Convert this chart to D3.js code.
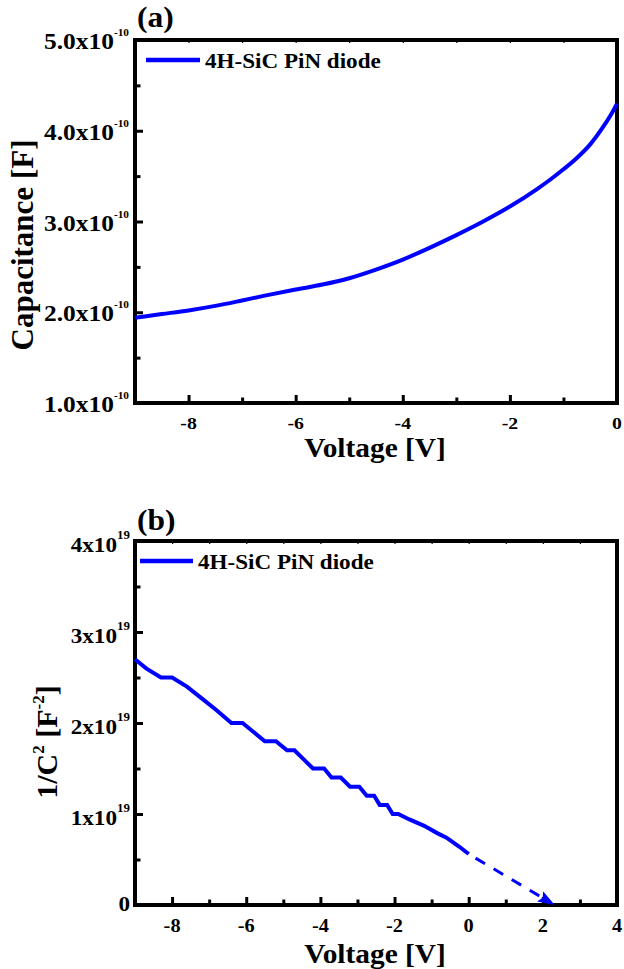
<!DOCTYPE html>
<html>
<head>
<meta charset="utf-8">
<script src="https://cdn.jsdelivr.net/npm/d3@7"></script>
<style>
  html, body { margin: 0; padding: 0; background: #fff; }
  svg { display: block; }
  text { font-family: "Liberation Serif", "Times New Roman", serif; font-weight: bold; fill: #000; }
</style>
</head>
<body>
<svg id="chart" width="624" height="969"></svg>
<script>
// ---------------- DATA ----------------
// Panel (a): capacitance vs voltage
const capVoltage = [-9, -8.5, -8, -7.5, -7, -6.6, -6, -5.5, -5, -4.5, -4, -3.5, -3, -2.5, -2, -1.5, -1.25, -1, -0.75, -0.5, -0.25, -0.1, 0];
const capValue   = [1.94e-10, 1.98e-10, 2.02e-10, 2.07e-10, 2.13e-10, 2.18e-10, 2.25e-10, 2.305e-10, 2.375e-10, 2.47e-10, 2.58e-10, 2.71e-10, 2.85e-10, 3.00e-10, 3.165e-10, 3.355e-10, 3.46e-10, 3.575e-10, 3.70e-10, 3.85e-10, 4.05e-10, 4.19e-10, 4.30e-10];

// Panel (b): 1/C^2 vs voltage
const invVoltage = [-9, -8.7, -8.3, -8.0, -7.6, -7.2, -6.8, -6.4, -6.1, -5.5, -5.2, -4.9, -4.7, -4.45, -4.2, -3.9, -3.7, -3.45, -3.2, -2.95, -2.75, -2.55, -2.4, -2.2, -2.05, -1.9, -1.6, -1.2, -0.85, -0.6, -0.25, 0];
const invValue   = [2.7e19, 2.6e19, 2.5e19, 2.5e19, 2.4e19, 2.27e19, 2.14e19, 2.0e19, 2.0e19, 1.8e19, 1.8e19, 1.7e19, 1.7e19, 1.6e19, 1.5e19, 1.5e19, 1.4e19, 1.4e19, 1.3e19, 1.3e19, 1.2e19, 1.2e19, 1.1e19, 1.1e19, 1.0e19, 1.0e19, 0.94e19, 0.87e19, 0.79e19, 0.74e19, 0.64e19, 0.56e19];

// Extrapolation (dashed arrow)
const extrapVoltage = [0, 2.32];
const extrapValue   = [0.56e19, 0];

// Axis ticks & labels
const aXMajor = [-8, -6, -4, -2, 0];
const aXMinor = [-7, -5, -3, -1];
const aXLabels = ["-8", "-6", "-4", "-2", "0"];
const aYMajor = [1e-10, 2e-10, 3e-10, 4e-10, 5e-10];
const aYMinor = [1.5e-10, 2.5e-10, 3.5e-10, 4.5e-10];
const aYLabels = ["1.0x10", "2.0x10", "3.0x10", "4.0x10", "5.0x10"];
const aYExp = "-10";

const bXMajor = [-8, -6, -4, -2, 0, 2, 4];
const bXMinor = [-7, -5, -3, -1, 1, 3];
const bXLabels = ["-8", "-6", "-4", "-2", "0", "2", "4"];
const bYMajor = [0, 1e19, 2e19, 3e19, 4e19];
const bYMinor = [0.5e19, 1.5e19, 2.5e19, 3.5e19];
const bYLabels = ["0", "1x10", "2x10", "3x10", "4x10"];
const bYExp = ["", "19", "19", "19", "19"];

const legendLabel = "4H-SiC PiN diode";
const lineColor = "#0000ff";

// ---------------- LAYOUT ----------------
const svg = d3.select("#chart");
const L = 135, R = 617;
const aTop = 40, aBot = 403;
const bTop = 541, bBot = 905;
const SX = 1.13; // horizontal stretch of glyphs in reference

const xa = d3.scaleLinear().domain([-9, 0]).range([L, R]);
const ya = d3.scaleLinear().domain([1e-10, 5e-10]).range([aBot, aTop]);
const xb = d3.scaleLinear().domain([-9, 4]).range([L, R]);
const yb = d3.scaleLinear().domain([0, 4e19]).range([bBot, bTop]);

function label(g, x, y, str, size, anchor, sx) {
  return g.append("text")
    .attr("transform", `translate(${x},${y}) scale(${sx || 1},1)`)
    .attr("text-anchor", anchor || "start")
    .attr("font-size", size)
    .text(str);
}

function drawPanel(cfg) {
  const g = svg.append("g");
  const { x, y, top, bot } = cfg;

  const tickStyle = sel => {
    sel.select(".domain").remove();
    sel.selectAll(".tick line").attr("stroke", "#000").attr("stroke-width", 3);
    sel.selectAll(".tick text").remove();
  };
  g.append("g").attr("transform", `translate(0,${bot})`)
    .call(d3.axisBottom(x).tickValues(cfg.xMajor).tickSizeInner(-8).tickSizeOuter(0)).call(tickStyle);
  g.append("g").attr("transform", `translate(0,${bot})`)
    .call(d3.axisBottom(x).tickValues(cfg.xMinor).tickSizeInner(-5.5).tickSizeOuter(0)).call(tickStyle);
  g.append("g").attr("transform", `translate(${L},0)`)
    .call(d3.axisLeft(y).tickValues(cfg.yMajor).tickSizeInner(-8).tickSizeOuter(0)).call(tickStyle);
  g.append("g").attr("transform", `translate(${L},0)`)
    .call(d3.axisLeft(y).tickValues(cfg.yMinor).tickSizeInner(-5.5).tickSizeOuter(0)).call(tickStyle);
  const topAx = g.append("g").attr("transform", `translate(0,${top})`)
    .call(d3.axisTop(x).tickValues(cfg.xMajor.concat(cfg.xMinor)).tickSizeInner(-3).tickSizeOuter(0));
  topAx.select(".domain").remove();
  topAx.selectAll(".tick text").remove();
  topAx.selectAll(".tick line").attr("stroke", "#000").attr("stroke-width", 1.2);

  g.append("rect").attr("x", L).attr("y", top).attr("width", R - L).attr("height", bot - top)
    .attr("fill", "none").attr("stroke", "#000").attr("stroke-width", 4);

  cfg.xMajor.forEach((v, i) => label(g, x(v), bot + cfg.xLabDy, cfg.xLabels[i], cfg.xLabSize, "middle", SX));

  cfg.yMajor.forEach((v, i) => {
    const exp = cfg.yExp[i];
    const base = y(v) + (exp ? cfg.yLabDy : 6);
    const t = g.append("text")
      .attr("transform", `translate(${cfg.yLabX},${base}) scale(${SX},1)`)
      .attr("text-anchor", "end")
      .attr("font-size", cfg.yLabSize);
    t.append("tspan").text(cfg.yLabels[i]);
    if (exp) t.append("tspan").attr("font-size", cfg.expSize).attr("dy", -cfg.expRaise).text(exp);
  });

  label(g, 137, cfg.letterY, cfg.letter, 30, "start", 1.05);
  label(g, (L + R) / 2 - 1, cfg.xTitleY, "Voltage [V]", 28, "middle", 1.05);

  g.append("line").attr("x1", cfg.legX1).attr("x2", cfg.legX2).attr("y1", cfg.legY).attr("y2", cfg.legY)
    .attr("stroke", lineColor).attr("stroke-width", 4.5);
  label(g, cfg.legX2 + 5, cfg.legY + 8, legendLabel, 21, "start", 1.1);
  return g;
}

// ---------------- PANEL (a) ----------------
const ga = drawPanel({
  x: xa, y: ya, top: aTop, bot: aBot,
  xMajor: aXMajor, xMinor: aXMinor, xLabels: aXLabels, xLabDy: 25.5, xLabSize: 17.5,
  yMajor: aYMajor, yMinor: aYMinor, yLabels: aYLabels, yExp: aYLabels.map(() => aYExp),
  yLabX: 129, yLabDy: 9, yLabSize: 22.5, expSize: 10, expRaise: 13,
  letter: "(a)", letterY: 27, xTitleY: 457,
  legX1: 146, legX2: 200, legY: 60
});

ga.append("text")
  .attr("transform", "translate(33,245) rotate(-90)")
  .attr("text-anchor", "middle").attr("font-size", 31)
  .text("Capacitance [F]");

const capData = capVoltage.map((v, i) => [v, capValue[i]]);
ga.append("path").datum(capData)
  .attr("fill", "none").attr("stroke", lineColor).attr("stroke-width", 4)
  .attr("stroke-linejoin", "round")
  .attr("d", d3.line().x(d => xa(d[0])).y(d => ya(d[1])).curve(d3.curveMonotoneX));

// ---------------- PANEL (b) ----------------
const gb = drawPanel({
  x: xb, y: yb, top: bTop, bot: bBot,
  xMajor: bXMajor, xMinor: bXMinor, xLabels: bXLabels, xLabDy: 27, xLabSize: 18,
  yMajor: bYMajor, yMinor: bYMinor, yLabels: bYLabels, yExp: bYExp,
  yLabX: 130, yLabDy: 10.5, yLabSize: 20.5, expSize: 11.5, expRaise: 13,
  letter: "(b)", letterY: 529.5, xTitleY: 963,
  legX1: 140, legX2: 193, legY: 561
});

const yt = gb.append("text")
  .attr("transform", "translate(57,742) rotate(-90)")
  .attr("text-anchor", "middle").attr("font-size", 30);
yt.append("tspan").text("1/C");
yt.append("tspan").attr("font-size", 17).attr("dy", -13).text("2");
yt.append("tspan").attr("dy", 13).text(" [F");
yt.append("tspan").attr("font-size", 17).attr("dy", -13).text("-2");
yt.append("tspan").attr("dy", 13).text("]");

const invData = invVoltage.map((v, i) => [v, invValue[i]]);
gb.append("path").datum(invData)
  .attr("fill", "none").attr("stroke", lineColor).attr("stroke-width", 4)
  .attr("stroke-linejoin", "miter")
  .attr("d", d3.line().x(d => xb(d[0])).y(d => yb(d[1])));

svg.append("defs").append("marker")
  .attr("id", "arrow").attr("markerUnits", "userSpaceOnUse")
  .attr("viewBox", "0 0 17 12").attr("refX", 17).attr("refY", 6)
  .attr("markerWidth", 17).attr("markerHeight", 12).attr("orient", "auto")
  .append("path").attr("d", "M0,0 L17,6 L0,12 L3,6 Z").attr("fill", lineColor);

const extData = extrapVoltage.map((v, i) => [v, extrapValue[i]]);
gb.append("path").datum(extData)
  .attr("fill", "none").attr("stroke", lineColor).attr("stroke-width", 3)
  .attr("stroke-dasharray", "0,8,11,10,11,10,11,10,11,10")
  .attr("marker-end", "url(#arrow)")
  .attr("d", d3.line().x(d => xb(d[0])).y(d => yb(d[1])));
</script>
</body>
</html>
